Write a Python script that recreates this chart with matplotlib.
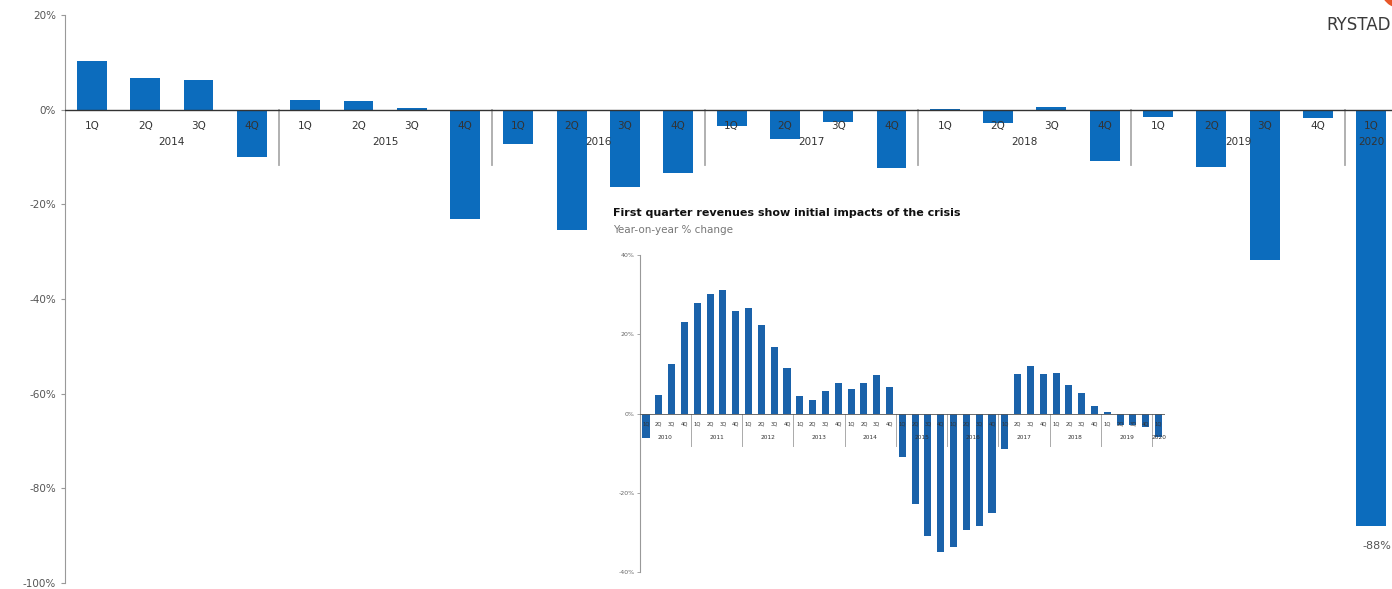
import matplotlib
matplotlib.use('Agg')
import matplotlib.pyplot as plt
import numpy as np
from matplotlib.patches import Wedge

# Datos del gráfico principal (variación trimestral, %)
main_quarters = ['1Q', '2Q', '3Q', '4Q'] * 6 + ['1Q']
main_years = ['2014', '2015', '2016', '2017', '2018', '2019', '2020']
main_values = [10.3, 6.7, 6.3, -10.1,
               2.1, 1.9, 0.3, -23.0,
               -7.2, -25.5, -16.4, -13.4,
               -3.4, -6.3, -2.7, -12.4,
               0.2, -2.9, 0.6, -10.8,
               -1.6, -12.2, -31.8, -1.8,
               -88.0]
main_yticks = [-100, -80, -60, -40, -20, 0, 20]

# Datos del gráfico insertado (variación interanual, %)
inset_quarters = ['1Q', '2Q', '3Q', '4Q'] * 10 + ['1Q']
inset_years = ['2010', '2011', '2012', '2013', '2014', '2015',
               '2016', '2017', '2018', '2019', '2020']
inset_values = [-6.3, 4.6, 12.4, 23.0,
                28.0, 30.1, 31.1, 25.8,
                26.6, 22.3, 16.7, 11.4,
                4.3, 3.3, 5.6, 7.6,
                6.1, 7.6, 9.6, 6.6,
                -11.0, -22.8, -30.9, -34.9,
                -33.7, -29.4, -28.4, -25.0,
                -8.9, 9.9, 11.9, 9.9,
                10.1, 7.1, 5.1, 1.8,
                0.3, -2.8, -3.0, -3.3,
                -6.0]
inset_yticks = [-40, -20, 0, 20, 40]

W, H = 1392, 589
fig = plt.figure(figsize=(W / 100, H / 100), dpi=100)


def quarter_axis(ax, quarters, years, q_off, y_off, sep_depth, fs_q, fs_y, sep_lw):
    n = len(quarters)
    for i, q in enumerate(quarters):
        ax.annotate(q, (i, 0), xytext=(0, q_off), textcoords='offset points',
                    ha='center', va='center', fontsize=fs_q, color='#333333', zorder=4)
    for j, yr in enumerate(years):
        idx = [k for k in range(j * 4, min(j * 4 + 4, n))]
        ax.annotate(yr, (np.mean(idx), 0), xytext=(0, y_off), textcoords='offset points',
                    ha='center', va='center', fontsize=fs_y, color='#333333', zorder=4)
    for s in np.arange(3.5, n - 1, 4):
        ax.plot([s, s], [0, sep_depth], color='#aaaaaa', lw=sep_lw, zorder=2)


# Gráfico principal
ax = fig.add_axes([65 / W, 6 / H, 1 - 65 / W, 568 / H])
x = np.arange(len(main_values))
ax.bar(x, main_values, width=0.56, color='#0c6cbd', zorder=1)
ax.set_xlim(-0.506, 24.39)
ax.set_ylim(-100, 20)
ax.set_yticks(main_yticks)
ax.set_yticklabels([f'{v}%' for v in main_yticks])
ax.set_xticks([])
for side in ['top', 'right', 'bottom']:
    ax.spines[side].set_visible(False)
ax.spines['left'].set_color('#999999')
ax.tick_params(axis='y', length=3, color='#999999', labelsize=7.5, labelcolor='#555555')
ax.axhline(0, color='#333333', lw=1, zorder=3)
quarter_axis(ax, main_quarters, main_years, -11.5, -23, -11.6, 7.5, 7.5, 1.3)
ax.annotate('-88%', (24, main_values[-1]), xytext=(4, -14), textcoords='offset points',
            ha='center', va='center', fontsize=8, color='#555555')

# Gráfico insertado
ax2 = fig.add_axes([640 / W, 17 / H, (1165 - 640) / W, 317 / H])
ax2.patch.set_alpha(0)
x2 = np.arange(len(inset_values))
ax2.bar(x2, inset_values, width=0.55, color='#1a62aa', zorder=1)
ax2.set_xlim(-0.47, 40.5)
ax2.set_ylim(-40, 40)
ax2.set_yticks(inset_yticks)
ax2.set_yticklabels([f'{v}%' for v in inset_yticks])
ax2.set_xticks([])
for side in ['top', 'right', 'bottom']:
    ax2.spines[side].set_visible(False)
ax2.spines['left'].set_color('#999999')
ax2.spines['left'].set_linewidth(0.8)
ax2.tick_params(axis='y', length=2, width=0.6, color='#999999', labelsize=4.5,
                labelcolor='#666666', pad=2)
ax2.axhline(0, color='#555555', lw=0.6, zorder=3)
quarter_axis(ax2, inset_quarters, inset_years, -7.2, -17, -8.1, 3.8, 4.2, 0.7)

fig.text(613 / W, 1 - 213 / H, 'First quarter revenues show initial impacts of the crisis',
         fontsize=8, fontweight='bold', color='#111111', va='center')
fig.text(613 / W, 1 - 230 / H, 'Year-on-year % change', fontsize=7.5, color='#777777',
         va='center')

# Logo
fig.text(0.999, 1 - 25 / H, 'RYSTAD', ha='right', va='center', fontsize=12, color='#3a3a3a')
fig.add_artist(Wedge((13.99, 5.99), 0.17, 180, 300, width=0.05,
                     transform=fig.dpi_scale_trans, color='#e8572a'))

fig.savefig('out.png', dpi=100)
